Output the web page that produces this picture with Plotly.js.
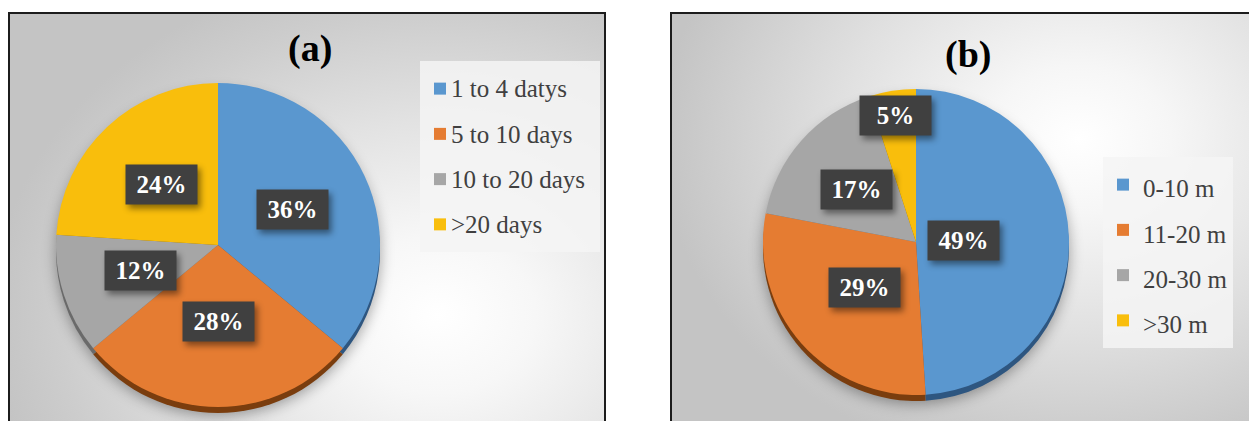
<!DOCTYPE html>
<html>
<head>
<meta charset="utf-8">
<script src="https://cdn.plot.ly/plotly-3.0.1.min.js"></script>
<style>
  html, body { margin: 0; padding: 0; background: #ffffff; }
  #wrap { position: relative; width: 1249px; height: 421px; overflow: hidden; }
  .panel { position: absolute; box-sizing: border-box; border: 2px solid #1c1c1c; border-bottom: none; }
  #bgA { left: 8px; top: 12px; width: 598px; height: 420px;
         background: radial-gradient(ellipse 75% 85% at 72% 72%, #ffffff 0%, #f7f7f7 22%, #e2e2e2 55%, #cdcdcd 85%, #c4c4c4 100%); }
  #bgB { left: 670px; top: 12px; width: 600px; height: 420px; border-right: none;
         background: radial-gradient(ellipse 70% 80% at 68% 30%, #ffffff 0%, #f6f6f6 22%, #e0e0e0 58%, #cccccc 88%, #c4c4c4 100%); }
  #chart { position: absolute; left: 0; top: 0; width: 1249px; height: 421px; }
  .pielayer .trace:nth-child(1), .pielayer .trace:nth-child(2) { filter: drop-shadow(0px 3px 7px rgba(0,0,0,0.35)); }
  .legendtext { transform: translate(-9px, -4px); }
</style>
</head>
<body>
<div id="wrap">
  <div class="panel" id="bgA"></div>
  <div class="panel" id="bgB"></div>
  <div id="chart"></div>
</div>
<script>
// ---- data ----
const titleA = "(a)";
const categoriesA = ["1 to 4 datys", "5 to 10 days", "10 to 20 days", ">20 days"];
const valuesA = [36, 28, 12, 24];

const titleB = "(b)";
const categoriesB = ["0-10 m", "11-20 m", "20-30 m", ">30 m"];
const valuesB = [49, 29, 17, 5];

// ---- styling ----
const W = 1249, H = 421;
const sliceColors = ["#5A97CF", "#E57C32", "#A6A6A6", "#F9BE0C"];
const rimColors = ["#2E5680", "#7A3D0E", "#6A6A6A", "#8C6A00"];
const pieA = { cx: 218, cy: 245, r: 162 };
const pieB = { cx: 916, cy: 242, r: 153 };
const labelRadiusA = [0.51, 0.47, 0.50, 0.51];
const labelRadiusB = [0.31, 0.45, 0.52, 0.84];
const rimDrop = 6;
const serif = "Liberation Serif";

function domainFor(p, dy) {
  dy = dy || 0;
  return {
    x: [(p.cx - p.r) / W, (p.cx + p.r) / W],
    y: [1 - (p.cy + dy + p.r) / H, 1 - (p.cy + dy - p.r) / H]
  };
}

function legendLabels(cats) {
  return cats.map(c => '<span style="font-size:25px">' + c + '</span>');
}

function rimTrace(cats, vals, p) {
  return {
    type: "pie", labels: cats, values: vals, sort: false, direction: "clockwise", rotation: 0,
    domain: domainFor(p, rimDrop), marker: { colors: rimColors, line: { width: 0 } },
    textinfo: "none", hoverinfo: "skip", showlegend: false
  };
}

function mainTrace(cats, vals, p, legendName) {
  return {
    type: "pie", labels: legendLabels(cats), values: vals, sort: false, direction: "clockwise", rotation: 0,
    domain: domainFor(p, 0), marker: { colors: sliceColors, line: { width: 0 } },
    textinfo: "none", hoverinfo: "label+percent", legend: legendName
  };
}

function labelAnnotations(vals, p, fracs) {
  const total = vals.reduce((a, b) => a + b, 0);
  let cum = 0;
  return vals.map((v, i) => {
    const mid = (cum + v / 2) / total * 2 * Math.PI;
    cum += v;
    const px = p.cx + fracs[i] * p.r * Math.sin(mid);
    const py = p.cy - fracs[i] * p.r * Math.cos(mid);
    return {
      xref: "paper", yref: "paper", x: px / W, y: 1 - py / H,
      xanchor: "center", yanchor: "middle", showarrow: false,
      text: "<b>" + Math.round(v / total * 100) + "%</b>",
      font: { family: serif, size: 25, color: "#ffffff" },
      bgcolor: "#404040", width: 71, height: 39, borderpad: 0
    };
  });
}

const data = [
  rimTrace(categoriesA, valuesA, pieA),
  rimTrace(categoriesB, valuesB, pieB),
  mainTrace(categoriesA, valuesA, pieA, "legend"),
  mainTrace(categoriesB, valuesB, pieB, "legend2")
];

const annotations = []
  .concat(labelAnnotations(valuesA, pieA, labelRadiusA))
  .concat(labelAnnotations(valuesB, pieB, labelRadiusB))
  .concat([
    { xref: "paper", yref: "paper", x: 310 / W, y: 1 - 48 / H, xanchor: "center", yanchor: "middle",
      showarrow: false, text: "<b>" + titleA + "</b>", font: { family: serif, size: 38, color: "#000000" } },
    { xref: "paper", yref: "paper", x: 968 / W, y: 1 - 55 / H, xanchor: "center", yanchor: "middle",
      showarrow: false, text: "<b>" + titleB + "</b>", font: { family: serif, size: 38, color: "#000000" } }
  ]);

const legendCommon = {
  xanchor: "left", yanchor: "top", bgcolor: "rgba(244,244,244,0.85)", borderwidth: 0,
  font: { family: serif, size: 32.5, color: "#404040" }, traceorder: "normal"
};

const layout = {
  width: W, height: H, margin: { l: 0, r: 0, t: 0, b: 0 },
  paper_bgcolor: "rgba(0,0,0,0)", plot_bgcolor: "rgba(0,0,0,0)",
  font: { family: serif },
  showlegend: true,
  legend: Object.assign({}, legendCommon, { x: 420 / W, y: 1 - 61 / H }),
  legend2: Object.assign({}, legendCommon, { x: 1103 / W, y: 1 - 157 / H }),
  annotations: annotations
};

Plotly.newPlot("chart", data, layout, { displayModeBar: false, staticPlot: true }).then(() => {
  const n = annotations.length;
  document.querySelectorAll("g.annotation").forEach(g => {
    const idx = +g.getAttribute("data-index");
    if (idx < n - 2) {
      const bg = g.querySelector("rect.bg");
      if (bg) bg.style.filter = "drop-shadow(3px 4px 3px rgba(0,0,0,0.45))";
    }
  });
});
</script>
</body>
</html>
